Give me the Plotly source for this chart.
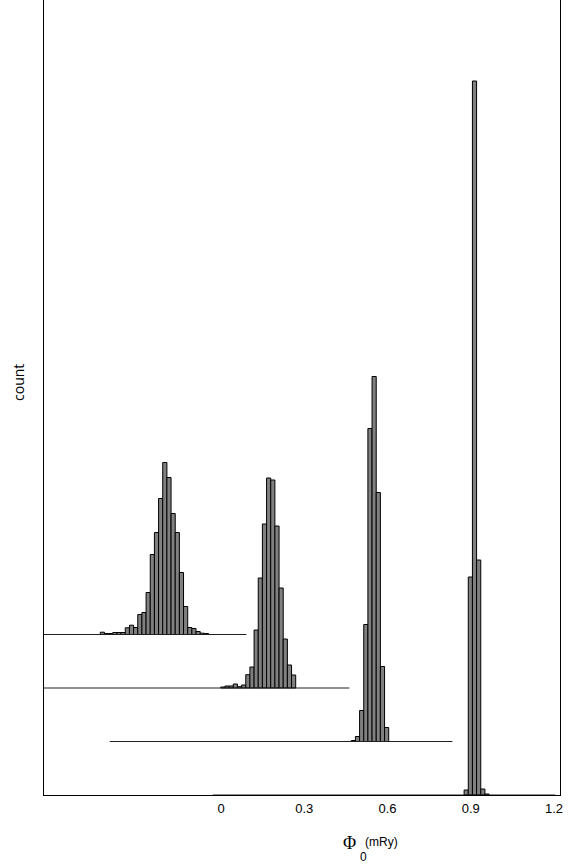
import plotly.graph_objects as go

# ---- data (bin centres in Phi_0 units, counts in arbitrary units) ----
h1_centers = [0.686, 0.701, 0.716, 0.731, 0.746, 0.761, 0.776, 0.791, 0.806, 0.821,
              0.836, 0.851, 0.866, 0.881, 0.896, 0.911, 0.926, 0.941, 0.956, 0.971,
              0.986, 1.001, 1.016, 1.031, 1.046, 1.061]
h1_counts = [2.3, 1, 1, 2, 2, 2, 6.7, 9.3, 7, 20,
             22, 42, 80, 102, 136, 172, 157, 121, 102, 62,
             28, 7, 6, 3, 1.3, 1]

h2_centers = [0.749, 0.764, 0.779, 0.794, 0.809, 0.824, 0.839, 0.854, 0.869, 0.884,
              0.899, 0.914, 0.929, 0.944, 0.959, 0.974, 0.989, 1.004]
h2_counts = [1, 2, 2, 4, 1.3, 3, 13.3, 21, 58, 110,
             164, 210, 208, 162, 100, 49, 23, 13]

h3_centers = [0.848, 0.863, 0.878, 0.893, 0.908, 0.923, 0.938, 0.953, 0.968]
h3_counts = [1, 5, 31, 117, 313, 365, 249, 75, 14]

h4_centers = [0.8835, 0.8985, 0.9135, 0.9285, 0.9435, 0.9585]
h4_counts = [5, 218, 714, 235, 6, 1]

bin_width = 0.015
baseline_span = [-0.03, 1.205]
tick_vals = [0, 0.3, 0.6, 0.9, 1.2]
tick_text = ["0", "0.3", "0.6", "0.9", "1.2"]

# ---- waterfall layout (positions, not data) ----
X_STEP = 0.3712   # horizontal shift between successive histograms
Y_STEP = 53.5     # vertical shift between successive histograms

series = [
    (h1_centers, h1_counts, 3),
    (h2_centers, h2_counts, 2),
    (h3_centers, h3_counts, 1),
    (h4_centers, h4_counts, 0),
]

fig = go.Figure()
for centers, counts, lvl in series:
    dx = -lvl * X_STEP
    dy = lvl * Y_STEP
    fig.add_trace(go.Scatter(
        x=[baseline_span[0] + dx, baseline_span[1] + dx], y=[dy, dy],
        mode="lines", line=dict(color="#202020", width=1),
        hoverinfo="skip", showlegend=False))
    fig.add_trace(go.Bar(
        x=[c + dx for c in centers], y=counts, base=dy, width=bin_width,
        marker=dict(color="#808080", line=dict(color="black", width=1)),
        showlegend=False))

PLOT_H = 795.0
def py(pix_y):
    return (PLOT_H - pix_y) / PLOT_H

PLOT_L, PLOT_R = 44.0, 560.0
def px(pix_x):
    return (pix_x - PLOT_L) / (PLOT_R - PLOT_L)

fig.update_layout(
    width=569, height=867,
    margin=dict(l=44, r=9, t=0, b=72),
    paper_bgcolor="white", plot_bgcolor="white",
    barmode="overlay",
    xaxis=dict(range=[-0.638, 1.2216], tickvals=tick_vals, ticktext=tick_text,
               showgrid=False, zeroline=False, showline=True, linecolor="black",
               linewidth=1, ticks="", ticklabelstandoff=1,
               tickfont=dict(family="Liberation Sans, Arial", size=13, color="black")),
    yaxis=dict(range=[0, 795], showticklabels=False, showgrid=False, zeroline=False,
               showline=True, mirror=True, linecolor="black", linewidth=1, ticks=""),
    annotations=[
        dict(text="count", xref="paper", yref="paper", x=px(18), y=py(383),
             textangle=-90, showarrow=False, xanchor="center", yanchor="middle",
             font=dict(family="Open Sans, Liberation Sans", size=14, color="black")),
        dict(text="Φ", xref="paper", yref="paper", x=px(349), y=py(843),
             showarrow=False, xanchor="center", yanchor="middle",
             font=dict(family="Liberation Serif, DejaVu Serif", size=18, color="black")),
        dict(text="0", xref="paper", yref="paper", x=px(363), y=py(857),
             showarrow=False, xanchor="center", yanchor="middle",
             font=dict(family="Liberation Sans, Arial", size=12, color="black")),
        dict(text="(mRy)", xref="paper", yref="paper", x=px(381), y=py(842),
             showarrow=False, xanchor="center", yanchor="middle",
             font=dict(family="Liberation Sans, Arial", size=12, color="black")),
    ],
)

fig.write_html("out.html", config={"displayModeBar": False},
               post_script="document.body.style.margin='0';")
